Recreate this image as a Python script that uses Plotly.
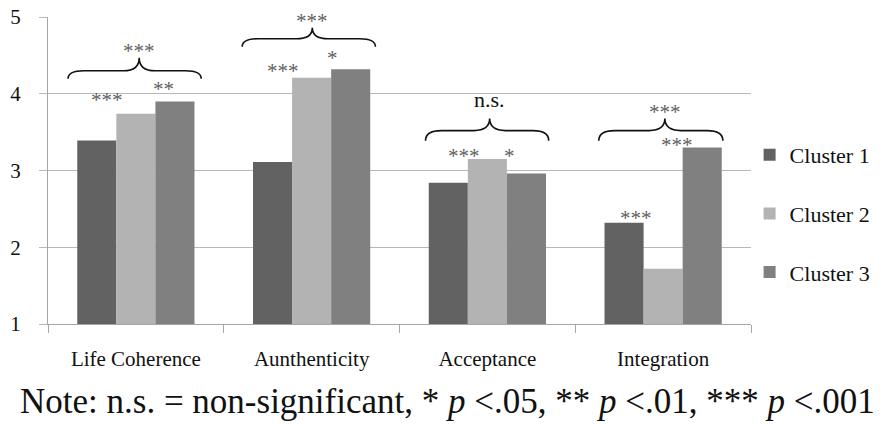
import plotly.graph_objects as go

categories = ["Life Coherence", "Aunthenticity", "Acceptance", "Integration"]
series_names = ["Cluster 1", "Cluster 2", "Cluster 3"]
cluster1 = [3.39, 3.11, 2.84, 2.32]
cluster2 = [3.74, 4.21, 3.15, 1.72]
cluster3 = [3.90, 4.32, 2.96, 3.30]
colors = ["#626262", "#b3b3b3", "#808080"]
y_ticks = [1, 2, 3, 4, 5]

# significance marks: (x in category units, y value, text)
bar_marks = [
    (-0.164, 3.96, "***"), (0.155, 4.105, "**"),
    (0.839, 4.34, "***"), (1.118, 4.50, "*"),
    (1.865, 3.233, "***"), (2.127, 3.233, "*"),
    (2.845, 2.426, "***"), (3.078, 3.376, "***"),
]
# braces: (x0, x1, xpeak, y_end, y_mid, y_peak, label, label_y)
braces = [
    (-0.386, 0.372, 0.019, 4.197, 4.30, 4.47, "***", 4.613),
    (0.605, 1.363, 1.004, 4.613, 4.717, 4.861, "***", 4.995),
    (1.648, 2.349, 2.013, 3.389, 3.52, 3.676, "n.s.", 3.93),
    (2.634, 3.340, 3.010, 3.389, 3.52, 3.676, "***", 3.82),
]

xs = list(range(len(categories)))
fig = go.Figure()
for name, vals, col in zip(series_names, [cluster1, cluster2, cluster3], colors):
    fig.add_trace(go.Bar(x=xs, y=vals, name=name, marker=dict(color=col, line=dict(width=0)),
                         legendgroup=name))

serif = "Liberation Serif"

star_font = dict(family=serif, size=21, color="#606060")
for x, y, t in bar_marks:
    fig.add_annotation(x=x, y=y, xref="x", yref="y", text=t, showarrow=False,
                       font=star_font, yshift=-3)

for x0, x1, xp, ye, ym, yp, lab, ly in braces:
    dx = 0.09
    path = (f"M {x0},{ye} Q {x0},{ym} {x0+dx},{ym} L {xp-dx},{ym} "
            f"Q {xp},{ym} {xp},{yp} Q {xp},{ym} {xp+dx},{ym} "
            f"L {x1-dx},{ym} Q {x1},{ym} {x1},{ye}")
    fig.add_shape(type="path", path=path, xref="x", yref="y",
                  line=dict(color="#111111", width=1.6))
    if lab == "n.s.":
        fnt = dict(family=serif, size=22, color="#111111")
        ys = 0
    else:
        fnt = star_font
        ys = -4
    fig.add_annotation(x=xp, y=ly, xref="x", yref="y", text=lab, showarrow=False,
                       font=fnt, yshift=ys)

fig.add_annotation(x=0.5, y=0, xref="paper", yref="paper", yshift=-77, xshift=48,
                   text="Note: n.s. = non-significant, * <i>p</i> &lt;.05, ** <i>p</i> &lt;.01, *** <i>p</i> &lt;.001",
                   showarrow=False, font=dict(family=serif, size=35, color="#111111"),
                   yanchor="middle", xanchor="center")

fig.update_layout(
    width=884, height=424,
    margin=dict(l=48, r=133, t=17, b=100, autoexpand=False),
    paper_bgcolor="white", plot_bgcolor="white",
    barmode="group", bargap=0.333, bargroupgap=0,
    showlegend=True,
    legend=dict(x=0.998, xanchor="left", y=0.36, yanchor="middle",
                font=dict(family=serif, size=22, color="#111111"),
                tracegroupgap=27, traceorder="grouped", itemwidth=30,
                bgcolor="rgba(0,0,0,0)"),
    xaxis=dict(range=[-0.5, 3.5], tickmode="array", tickvals=xs, ticktext=categories,
               ticks="", showgrid=False, zeroline=False,
               showline=True, linecolor="#a6a6a6", linewidth=1,
               tickfont=dict(family=serif, size=21, color="#111111"),
               ticklabelstandoff=16,
               minor=dict(tickvals=[-0.5, 0.5, 1.5, 2.5, 3.5], ticks="outside",
                          ticklen=8, tickcolor="#a6a6a6", tickwidth=1, showgrid=False)),
    yaxis=dict(range=[1, 5], tickmode="array", tickvals=y_ticks,
               showgrid=True, gridcolor="#b8b8b8", gridwidth=1, zeroline=False,
               showline=True, linecolor="#a6a6a6", linewidth=1,
               ticks="outside", ticklen=8, tickcolor="#b8b8b8",
               tickfont=dict(family=serif, size=21, color="#111111"),
               ticklabelstandoff=14),
)

fig.write_html("out.html")
